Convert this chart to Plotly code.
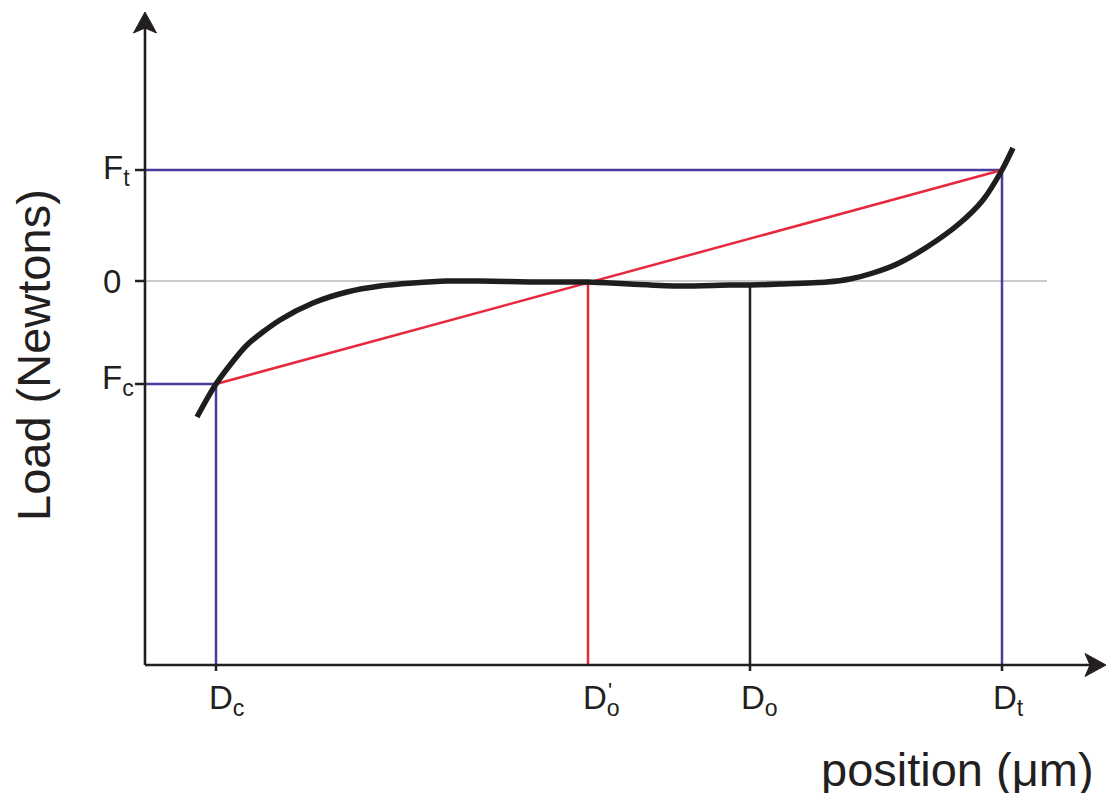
import numpy as np
import plotly.graph_objects as go

# ---- data (schematic units: position in µm-like units, load in N-like units) ----
curve_x = [52, 71, 102, 135, 168, 202, 235, 268, 302, 335, 385, 443, 485, 535, 585, 605, 635, 682, 705, 728, 752, 782, 815, 838, 857, 868]
curve_y = [-136, -103, -64, -39, -22, -11, -5, -2, 0, 0, -1, -1, -3, -5, -4, -4, -3, -1, 2, 8, 17, 34, 58, 81, 111, 133]

D_c, D_o_prime, D_o, D_t = 71, 443, 605, 857
F_c, F_zero, F_t = -103, 0, 111

x_axis_origin, y_axis_origin = 0, -384
x_axis_end, y_axis_end = 961, 269
zero_line_end = 902

x_tick_labels = ["D<sub>c</sub>", "D<sub>o</sub>", "D<sub>o</sub>", "D<sub>t</sub>"]
x_tick_vals = [D_c, D_o_prime, D_o, D_t]
y_tick_labels = ["F<sub>t</sub>", "0", "F<sub>c</sub>"]
y_tick_vals = [F_t, F_zero, F_c]

x_title = "position (μm)"
y_title = "Load (Newtons)"

# ---- styles ----
FONT = "Liberation Sans, Arial, Helvetica, sans-serif"
INK = "#231f20"
BLUE = "#4b3b9c"
RED = "#e8283c"
GRAY = "#c8cbd0"
x_label_dx = [10, 13, 9, 6]
y_label_dx = [-29, -33, -27]
y_label_dy = [0, 0, 4]
HEAD_LEN, HEAD_HALF, HEAD_NOTCH = 21, 11.5, 16

fig = go.Figure()

def seg(xs, ys, color, width):
    fig.add_trace(go.Scatter(x=xs, y=ys, mode="lines", line=dict(color=color, width=width),
                             hoverinfo="skip", showlegend=False))

# zero line
seg([x_axis_origin, zero_line_end], [F_zero, F_zero], GRAY, 2)
# blue guide lines
seg([x_axis_origin, D_t, D_t], [F_t, F_t, y_axis_origin], BLUE, 2.5)
seg([x_axis_origin, D_c, D_c], [F_c, F_c, y_axis_origin], BLUE, 2.5)
# red secant and vertical
seg([D_c, D_t], [F_c, F_t], RED, 2.5)
seg([D_o_prime, D_o_prime], [F_zero, y_axis_origin], RED, 2.5)
# black vertical at D_o
do_load = float(np.interp(D_o, curve_x, curve_y))
seg([D_o, D_o], [do_load, y_axis_origin], INK, 2.5)

# curve
fig.add_trace(go.Scatter(x=curve_x, y=curve_y, mode="lines",
                         line=dict(color="#1e1e1e", width=5.5, shape="spline", smoothing=0.7),
                         hoverinfo="skip", showlegend=False))

# axes
seg([x_axis_origin, x_axis_end - HEAD_NOTCH], [y_axis_origin, y_axis_origin], INK, 2.6)
seg([x_axis_origin, x_axis_origin], [y_axis_origin, y_axis_end - HEAD_NOTCH], INK, 2.6)

# arrowheads (filled, slightly notched)
fig.add_trace(go.Scatter(
    x=[x_axis_origin, x_axis_origin - HEAD_HALF, x_axis_origin, x_axis_origin + HEAD_HALF, x_axis_origin],
    y=[y_axis_end, y_axis_end - HEAD_LEN, y_axis_end - HEAD_NOTCH, y_axis_end - HEAD_LEN, y_axis_end],
    mode="lines", fill="toself", fillcolor=INK, line=dict(color=INK, width=1),
    hoverinfo="skip", showlegend=False))
fig.add_trace(go.Scatter(
    x=[x_axis_end, x_axis_end - HEAD_LEN, x_axis_end - HEAD_NOTCH, x_axis_end - HEAD_LEN, x_axis_end],
    y=[y_axis_origin, y_axis_origin + HEAD_HALF, y_axis_origin, y_axis_origin - HEAD_HALF, y_axis_origin],
    mode="lines", fill="toself", fillcolor=INK, line=dict(color=INK, width=1),
    hoverinfo="skip", showlegend=False))

# ticks
tx, ty = [], []
for v in [D_c, D_o, D_t]:
    tx += [v, v, None]; ty += [y_axis_origin, y_axis_origin - 6, None]
for v in y_tick_vals:
    tx += [x_axis_origin - 10, x_axis_origin, None]; ty += [v, v, None]
seg(tx, ty, INK, 2.5)

# tick labels
lab_font = dict(family=FONT, size=33, color=INK)
for v, t, dx in zip(x_tick_vals, x_tick_labels, x_label_dx):
    fig.add_annotation(x=v + dx, y=y_axis_origin - 35, text=t, showarrow=False,
                       xref="x", yref="y", font=lab_font, xanchor="center", yanchor="middle")
fig.add_annotation(x=D_o_prime + 22, y=y_axis_origin - 25, text="'", showarrow=False,
                   xref="x", yref="y", font=dict(family=FONT, size=22, color=INK))
for v, t, dx, dy in zip(y_tick_vals, y_tick_labels, y_label_dx, y_label_dy):
    fig.add_annotation(x=x_axis_origin + dx, y=v + dy, text=t, showarrow=False,
                       xref="x", yref="y", font=lab_font, xanchor="center", yanchor="middle")

# axis titles
fig.add_annotation(x=-112, y=-74, text=y_title, textangle=-90, showarrow=False,
                   xref="x", yref="y", font=dict(family=FONT, size=47, color=INK))
fig.add_annotation(x=812, y=-488, text=x_title, showarrow=False,
                   xref="x", yref="y", font=dict(family=FONT, size=47, color=INK))

fig.update_layout(
    width=1107, height=793,
    margin=dict(l=0, r=0, t=0, b=0),
    paper_bgcolor="white", plot_bgcolor="white",
    xaxis=dict(range=[-145, 962], visible=False, fixedrange=True),
    yaxis=dict(range=[-512, 281], visible=False, fixedrange=True),
    showlegend=False,
)

fig.write_html("out.html", config={"displayModeBar": False},
               post_script="document.body.style.margin='0';")
